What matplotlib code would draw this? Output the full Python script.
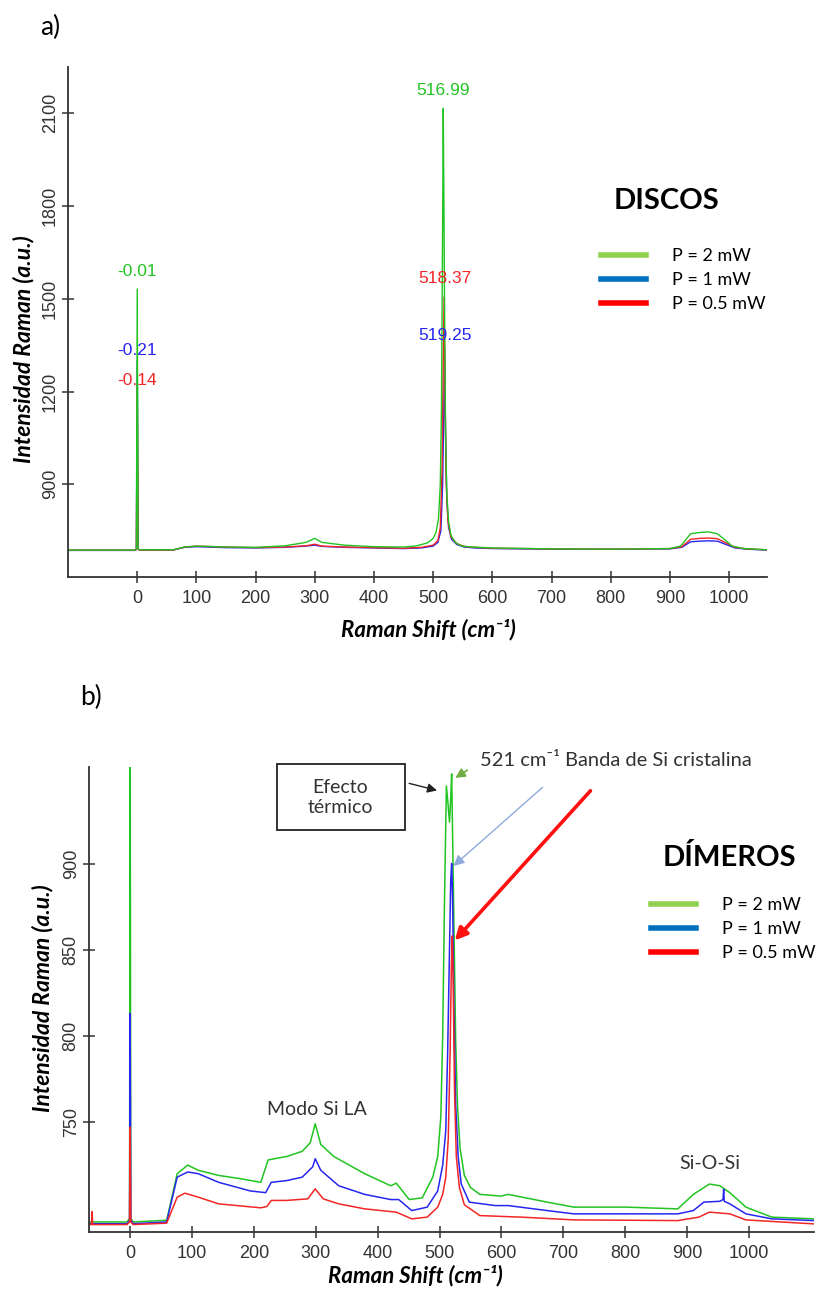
import matplotlib
matplotlib.use("Agg")
import matplotlib.pyplot as plt
from matplotlib.lines import Line2D
from matplotlib.patches import Rectangle

# ---------------- data: a) DISCOS ----------------
a_green_x = [-117, -4, -1.5, 0, 1.5, 4, 60, 80, 100, 150, 200, 250, 285, 300, 312, 350, 400, 450,
             470, 490, 500, 505, 509, 512, 514, 516, 517, 518, 519.5, 521, 523, 526, 530, 537, 548,
             565, 600, 700, 800, 900, 918, 935, 950, 965, 980, 992, 1005, 1025, 1064]
a_green_y = [687, 687, 690, 1532, 692, 688, 688, 697, 700, 697, 696, 701, 712, 725, 712, 703, 698, 697,
             700, 710, 725, 745, 790, 900, 1150, 1750, 2116, 1850, 1400, 1050, 870, 780, 735, 712, 700,
             697, 694, 691, 690, 692, 700, 740, 744, 746, 740, 722, 700, 692, 688]

a_blue_x = [-117, -4, -1.5, 0, 1.5, 4, 60, 80, 100, 150, 200, 250, 285, 300, 312, 350, 400, 450,
            480, 500, 508, 513, 516, 518, 519.25, 521, 523, 526, 531, 540, 552, 570, 600, 700, 800, 900,
            920, 935, 950, 965, 980, 995, 1010, 1030, 1064]
a_blue_y = [686, 686, 689, 1300, 690, 687, 687, 696, 698, 695, 694, 696, 700, 703, 699, 696, 694, 692,
            694, 700, 712, 750, 900, 1150, 1338, 1050, 850, 760, 722, 705, 697, 694, 692, 690, 690, 691,
            696, 714, 716, 717, 716, 705, 694, 690, 687]

a_red_x = [-117, -4, -1.5, 0, 1.5, 4, 60, 80, 100, 150, 200, 250, 285, 300, 312, 350, 400, 450,
           480, 500, 508, 512, 515, 517, 518.37, 520, 522, 525, 530, 540, 552, 570, 600, 700, 800, 900,
           920, 935, 950, 965, 980, 995, 1010, 1030, 1064]
a_red_y = [687, 687, 689, 1220, 690, 687, 687, 697, 700, 697, 695, 697, 701, 706, 700, 697, 695, 693,
           696, 703, 718, 760, 950, 1300, 1506, 1200, 900, 780, 730, 708, 699, 696, 693, 691, 690, 692,
           698, 722, 725, 726, 724, 710, 696, 691, 688]

# ---------------- data: b) DIMEROS ----------------
b_green_x = [-67, -5, -1, 0, 1, 5, 59, 76, 93, 110, 143, 180, 211, 223, 253, 278, 291, 299,
             308, 329, 379, 421, 430, 451, 472, 489, 497, 502, 505, 508, 511, 513.5, 516, 518,
             519.5, 521.5, 523.5, 526, 529, 533, 540, 550, 565, 599, 611, 674, 717, 801,
             885, 910, 936, 953, 969, 995, 1037, 1104]
b_green_y = [692, 692, 694, 1000, 694, 692, 693, 720, 725, 722, 719, 717, 715, 728, 730, 733, 738, 749,
             737, 730, 720, 713, 714.5, 705, 706, 718, 730, 753, 800, 880, 945, 935, 924, 938,
             952, 905, 857, 797, 759, 735, 719, 712, 708, 707, 708, 703.5, 700.6, 700.6,
             699.6, 708, 714, 713, 709, 700.6, 694.8, 693.8]

b_blue_x = [-67, -5, -1, 0, 1, 5, 59, 76, 93, 110, 143, 194, 219, 228, 253, 278, 295, 299,
            308, 337, 379, 421, 434, 455, 480, 497, 505, 510, 513, 516, 518, 519.5, 521, 523, 526, 530,
            535, 548, 590, 611, 674, 717, 801, 885, 910, 927, 953, 958, 959, 960, 969, 995, 1037, 1104]
b_blue_y = [691, 691, 693, 813, 693, 691, 692, 718, 721, 720, 715, 710, 709, 715, 716, 718, 724, 728.7,
            722, 713, 708, 705, 705, 698.6, 700.6, 710, 725, 745, 790, 850, 890, 900, 880, 820, 760, 730,
            714, 703.5, 701.5, 701.5, 698.6, 696.7, 696.7, 696.7, 698.6, 703.5, 704, 705, 711, 704, 702.5,
            696.7, 693.8, 692.8]

b_red_x = [-67, -62.5, -61.5, -60.5, -5, -1, 0, 1, 5, 59, 76, 88.5, 110, 143, 211, 221, 228, 253,
           287, 299, 312, 337, 379, 430, 455, 480, 497, 505, 510, 514, 517, 519, 520.5, 522, 524, 527,
           532, 540, 565, 632, 717, 885, 919, 936, 969, 995, 1104]
b_red_y = [690.5, 690.5, 698, 690.5, 690.5, 692, 747, 692, 690.5, 691.3, 706.4, 708.7, 706.4, 702.5,
           700.2, 701, 704.5, 704.5, 705.4, 711.2, 705.4, 702.5, 699.6, 697.7, 693.8, 694.8, 700.6, 708,
           718, 740, 790, 840, 858, 830, 770, 730, 712, 702, 695.7, 694.8, 693.2, 692.8, 694.8, 697.7,
           696.7, 693.2, 690.9]

series_labels = ["P = 2 mW", "P = 1 mW", "P = 0.5 mW"]
legend_colors = ["#92d050", "#0070c0", "#ff0000"]
line_colors = ["#22c422", "#2626f0", "#f22626"]

a_yticks = [900, 1200, 1500, 1800, 2100]
b_yticks = [750, 800, 850, 900]
x_ticks = list(range(0, 1001, 100))

# peak labels in a): (text, x, y, colour index)
a_peak_labels = [("516.99", 517, 2174, 0), ("518.37", 519, 1565, 2), ("519.25", 520, 1381, 1),
                 ("-0.01", 0, 1587, 0), ("-0.21", 0, 1332, 1), ("-0.14", 0, 1235, 2)]

W, H = 818, 1293
CAL = ["Lato", "DejaVu Sans"]
TICKF = ["Liberation Sans Narrow", "Liberation Sans", "DejaVu Sans"]

fig = plt.figure(figsize=(W / 100, H / 100), dpi=100)


def px(x, y):
    return x / W, 1 - y / H


def style_axes(ax, yticks):
    for s in ["top", "right"]:
        ax.spines[s].set_visible(False)
    for s in ["left", "bottom"]:
        ax.spines[s].set_linewidth(1.3)
        ax.spines[s].set_color("#333333")
    ax.set_xticks(x_ticks)
    ax.set_yticks(yticks)
    ax.tick_params(direction="inout", length=9, width=1.1, color="#333333",
                   labelsize=13, labelcolor="#333333")
    ax.tick_params(axis="x", pad=5)
    ax.tick_params(axis="y", pad=2)
    for lab in ax.get_xticklabels() + ax.get_yticklabels():
        lab.set_family(TICKF)
    for lab in ax.get_yticklabels():
        lab.set_rotation(90)
        lab.set_va("center")


def axis_labels(ax, xpos, ypos):
    ax.set_xlabel("Raman Shift (cm⁻¹)", family=CAL, fontsize=16, fontweight="bold",
                  style="italic", va="center")
    ax.set_ylabel("Intensidad Raman (a.u.)", family=CAL, fontsize=16.5, fontweight="bold",
                  style="italic", va="center")
    ax.xaxis.set_label_coords(*xpos)
    ax.yaxis.set_label_coords(*ypos)


leg_kw = dict(loc="upper left", frameon=False, prop={"family": CAL, "size": 13},
              handlelength=2.5, handletextpad=1.45, borderpad=0, borderaxespad=0)
handles = [Line2D([], [], color=c, lw=4) for c in legend_colors]

# ================= panel a =================
axa = fig.add_axes([68 / W, 1 - 577 / H, (767 - 68) / W, (577 - 67) / H])
axa.plot(a_blue_x, a_blue_y, color=line_colors[1], lw=1.0)
axa.plot(a_red_x, a_red_y, color=line_colors[2], lw=1.0)
axa.plot(a_green_x, a_green_y, color=line_colors[0], lw=1.0)
axa.set_xlim(-117, 1064)
axa.set_ylim(600, 2250)
style_axes(axa, a_yticks)
for txt, x, y, ci in a_peak_labels:
    axa.text(x, y, txt, color=line_colors[ci], fontsize=12.5, family=TICKF[1:],
             ha="center", va="center")
axis_labels(axa, (0.515, -0.104), (-0.063, 0.447))

fig.text(*px(666.7, 201), "DISCOS", family=CAL, fontsize=21, fontweight="bold", ha="center", va="center")
fig.legend(handles, series_labels, bbox_to_anchor=px(601, 248), labelspacing=0.45, **leg_kw)
fig.text(*px(40, 27), "a)", family=CAL, fontsize=19, ha="left", va="center")

# ================= panel b =================
axb = fig.add_axes([88.7 / W, 1 - 1232.3 / H, (814 - 88.7) / W, (1232.3 - 767) / H])
axb.plot(b_green_x, b_green_y, color=line_colors[0], lw=1.1)
axb.plot(b_blue_x, b_blue_y, color=line_colors[1], lw=1.1)
axb.plot(b_red_x, b_red_y, color=line_colors[2], lw=1.1)
axb.set_xlim(-67, 1105)
axb.set_ylim(686, 956)
style_axes(axb, b_yticks)
axis_labels(axb, (0.45, -0.094), (-0.064, 0.504))

axb.text(301.6, 757.2, "Modo Si LA", family=CAL, fontsize=14, color="#333333", ha="center", va="center")
axb.text(937, 725.8, "Si-O-Si", family=CAL, fontsize=14, color="#333333", ha="center", va="center")

# "Efecto térmico" box
axb.add_patch(Rectangle((236.8, 919.4), 443.5 - 236.8, 957.6 - 919.4, fill=False,
                        edgecolor="#222222", lw=1.3, clip_on=False))
axb.text(340, 938.4, "Efecto\ntérmico", family=CAL, fontsize=14, color="#333333",
         ha="center", va="center", linespacing=1.2)
axb.annotate("", xy=(500.2, 942), xytext=(446.4, 946.9), annotation_clip=False,
             arrowprops=dict(arrowstyle="-|>", color="#222222", lw=1.0, mutation_scale=14))
axb.annotate("", xy=(521.6, 948.8), xytext=(548.5, 955), annotation_clip=False,
             arrowprops=dict(arrowstyle="-|>", color="#70ad47", lw=1.3, mutation_scale=14))
axb.text(564.8, 959.5, "521 cm⁻¹ Banda de Si cristalina", family=CAL, fontsize=14.5, color="#333333",
         ha="left", va="center", clip_on=False)
axb.annotate("", xy=(519, 897.5), xytext=(669.8, 945.3), annotation_clip=False,
             arrowprops=dict(arrowstyle="-|>", color="#8eaadb", lw=1.0, mutation_scale=16))
axb.annotate("", xy=(521.6, 854.2), xytext=(746.8, 943.4), annotation_clip=False,
             arrowprops=dict(arrowstyle="-|>", color="#ff1010", lw=2.6, mutation_scale=18))

fig.text(*px(729, 857), "DÍMEROS", family=CAL, fontsize=21, fontweight="bold", ha="center", va="center")
fig.legend(handles, series_labels, bbox_to_anchor=px(651, 897), labelspacing=0.45, **leg_kw)
fig.text(*px(80, 697), "b)", family=CAL, fontsize=19, ha="left", va="center")

fig.savefig("out.png", dpi=100)
